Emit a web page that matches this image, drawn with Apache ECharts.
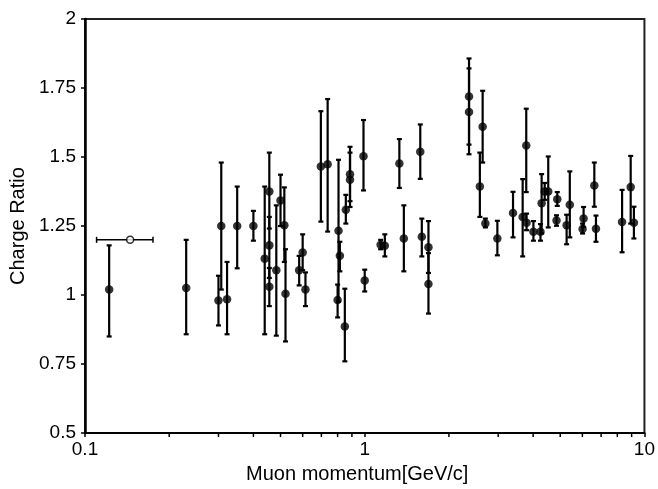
<!DOCTYPE html>
<html>
<head>
<meta charset="utf-8">
<script src="https://cdn.jsdelivr.net/npm/echarts@6/dist/echarts.min.js"></script>
<style>
  html, body { margin: 0; padding: 0; background: #fff; }
  #chart { width: 658px; height: 489px; }
</style>
</head>
<body>
<div id="chart"></div>
<script>
// Muon charge ratio versus momentum, with vertical error bars
var momentum = [0.122, 0.23, 0.30, 0.307, 0.322, 0.35, 0.40, 0.439, 0.456, 0.456, 0.456, 0.483, 0.50, 0.516, 0.521,
  0.583, 0.60, 0.614, 0.697, 0.737, 0.80, 0.806, 0.815, 0.849, 0.856, 0.886, 0.886, 0.99, 1.0, 1.14, 1.18,
  1.33, 1.38, 1.58, 1.60, 1.69, 1.69, 2.36, 2.36, 2.64, 2.58, 2.70, 2.98, 3.39, 3.67, 3.78, 3.79, 4.01, 4.25,
  4.29, 4.40, 4.53, 4.88, 4.85, 5.27, 5.41, 6.01, 6.06, 6.62, 6.71, 8.32, 8.93, 9.17];
var chargeRatio = [1.02, 1.026, 0.98, 1.25, 0.985, 1.25, 1.25, 1.132, 1.375, 1.18, 1.03, 1.09, 1.343, 1.253, 1.005,
  1.09, 1.154, 1.02, 1.466, 1.474, 0.982, 1.233, 1.142, 0.886, 1.309, 1.438, 1.418, 1.503, 1.053, 1.182, 1.179,
  1.477, 1.205, 1.519, 1.211, 1.173, 1.04, 1.719, 1.663, 1.61, 1.393, 1.259, 1.205, 1.297, 1.283, 1.542, 1.262, 1.229, 1.229,
  1.333, 1.375, 1.375, 1.347, 1.27, 1.253, 1.327, 1.239, 1.277, 1.397, 1.24, 1.265, 1.391, 1.262];
var ratioLow = [0.85, 0.858, 0.89, 1.02, 0.858, 1.097, 1.197, 0.858, 1.241, 1.062, 0.96, 0.853, 1.25, 1.12, 0.832,
  1.035, 1.09, 0.96, 1.266, 1.23, 0.919, 0.976, 1.086, 0.76, 1.259, 1.319, 1.34, 1.379, 1.013, 1.166, 1.14,
  1.388, 1.086, 1.421, 1.14, 1.08, 0.933, 1.545, 1.51, 1.48, 1.283, 1.245, 1.144, 1.209, 1.14, 1.373, 1.235, 1.197, 1.197,
  1.223, 1.345, 1.245, 1.323, 1.251, 1.184, 1.209, 1.223, 1.247, 1.32, 1.193, 1.155, 1.259, 1.205];
var ratioHigh = [1.18, 1.2, 1.07, 1.48, 1.12, 1.393, 1.305, 1.393, 1.516, 1.283, 1.098, 1.325, 1.436, 1.39, 1.166,
  1.142, 1.22, 1.082, 1.666, 1.71, 1.038, 1.49, 1.193, 1.023, 1.363, 1.537, 1.516, 1.634, 1.092, 1.2, 1.22,
  1.565, 1.325, 1.618, 1.277, 1.268, 1.152, 1.857, 1.821, 1.74, 1.516, 1.277, 1.269, 1.374, 1.42, 1.675, 1.295, 1.268, 1.257,
  1.438, 1.406, 1.502, 1.373, 1.289, 1.291, 1.448, 1.259, 1.319, 1.48, 1.288, 1.381, 1.504, 1.32];

// Single point with a horizontal (momentum) error bar
var openMomentum = [0.145];
var openRatio = [1.2];
var openMomentumLow = [0.11];
var openMomentumHigh = [0.175];

// Axis ticks
var yTicks = [0.5, 0.75, 1, 1.25, 1.5, 1.75, 2];
var xMinorTicks = [0.2, 0.3, 0.4, 0.5, 0.6, 0.7, 0.8, 0.9, 2, 3, 4, 5, 6, 7, 8, 9];

var FONT = 'Liberation Sans';
var points = momentum.map(function (m, i) { return [m, chargeRatio[i], ratioLow[i], ratioHigh[i]]; });
var openPoints = openMomentum.map(function (m, i) { return [m, openRatio[i], openMomentumLow[i], openMomentumHigh[i]]; });

var chart = echarts.init(document.getElementById('chart'), null, { renderer: 'canvas' });

var capHalf = 2.5;
var lineStyle = { stroke: '#000', lineWidth: 2.2 };

chart.setOption({
  animation: false,
  backgroundColor: '#fff',
  grid: {
    left: 81, right: 7, top: 19, bottom: 52,
    show: true, borderColor: '#222', borderWidth: 2, backgroundColor: 'transparent'
  },
  xAxis: {
    type: 'log', logBase: 10, min: 0.1, max: 10,
    name: 'Muon momentum[GeV/c]', nameLocation: 'middle', nameGap: 30,
    nameTextStyle: { fontFamily: FONT, fontSize: 20, color: '#000', padding: [0, 15, 0, 0] },
    axisLine: { show: true, lineStyle: { color: '#000', width: 2 } },
    axisTick: { show: true, inside: false, length: 4, lineStyle: { color: '#000', width: 1.5 } },
    axisLabel: { fontFamily: FONT, fontSize: 19, color: '#000', margin: 7,
      formatter: function (v) { return String(v); } },
    splitLine: { show: false },
    minorTick: { show: false }
  },
  yAxis: {
    type: 'value', min: yTicks[0], max: yTicks[yTicks.length - 1], interval: 0.25,
    name: 'Charge Ratio', nameLocation: 'middle', nameGap: 57, nameRotate: 90,
    nameTextStyle: { fontFamily: FONT, fontSize: 20, color: '#000' },
    axisLine: { show: true, lineStyle: { color: '#000', width: 2.5 } },
    axisTick: { show: true, inside: false, length: 4, lineStyle: { color: '#000', width: 1.5 } },
    axisLabel: { fontFamily: FONT, fontSize: 19, color: '#000', margin: 9, padding: [0, 0, 4, 0],
      formatter: function (v) { return String(v); } },
    splitLine: { show: false }
  },
  series: [
    {
      // minor ticks of the log axis (2..9 in each decade)
      type: 'custom', silent: true, clip: false, z: 1,
      data: xMinorTicks.map(function (v) { return [v, 0.5]; }),
      renderItem: function (params, api) {
        var p = api.coord([api.value(0), api.value(1)]);
        return { type: 'line', shape: { x1: p[0], y1: p[1], x2: p[0], y2: p[1] + 4 },
          style: { stroke: '#000', lineWidth: 1.5 } };
      }
    },
    {
      // vertical error bars
      type: 'custom', silent: true, z: 2,
      data: points,
      renderItem: function (params, api) {
        var x = api.value(0);
        var lo = api.coord([x, api.value(2)]);
        var hi = api.coord([x, api.value(3)]);
        return { type: 'group', children: [
          { type: 'line', shape: { x1: lo[0], y1: lo[1], x2: hi[0], y2: hi[1] }, style: lineStyle },
          { type: 'line', shape: { x1: lo[0] - capHalf, y1: lo[1], x2: lo[0] + capHalf, y2: lo[1] }, style: lineStyle },
          { type: 'line', shape: { x1: hi[0] - capHalf, y1: hi[1], x2: hi[0] + capHalf, y2: hi[1] }, style: lineStyle }
        ] };
      }
    },
    {
      type: 'scatter', z: 3, symbol: 'circle', symbolSize: 8.5,
      itemStyle: { color: '#000' },
      data: points.map(function (p) { return [p[0], p[1]]; })
    },
    {
      // horizontal error bar of the open point
      type: 'custom', silent: true, z: 2,
      data: openPoints,
      renderItem: function (params, api) {
        var y = api.value(1);
        var lo = api.coord([api.value(2), y]);
        var hi = api.coord([api.value(3), y]);
        var ls = { stroke: '#000', lineWidth: 1.5 };
        return { type: 'group', children: [
          { type: 'line', shape: { x1: lo[0], y1: lo[1], x2: hi[0], y2: hi[1] }, style: ls },
          { type: 'line', shape: { x1: lo[0], y1: lo[1] - 3, x2: lo[0], y2: lo[1] + 3 }, style: ls },
          { type: 'line', shape: { x1: hi[0], y1: hi[1] - 3, x2: hi[0], y2: hi[1] + 3 }, style: ls }
        ] };
      }
    },
    {
      type: 'scatter', z: 4, symbol: 'circle', symbolSize: 7,
      itemStyle: { color: '#fff', borderColor: '#000', borderWidth: 1.5 },
      data: openPoints.map(function (p) { return [p[0], p[1]]; })
    }
  ]
});
</script>
</body>
</html>
